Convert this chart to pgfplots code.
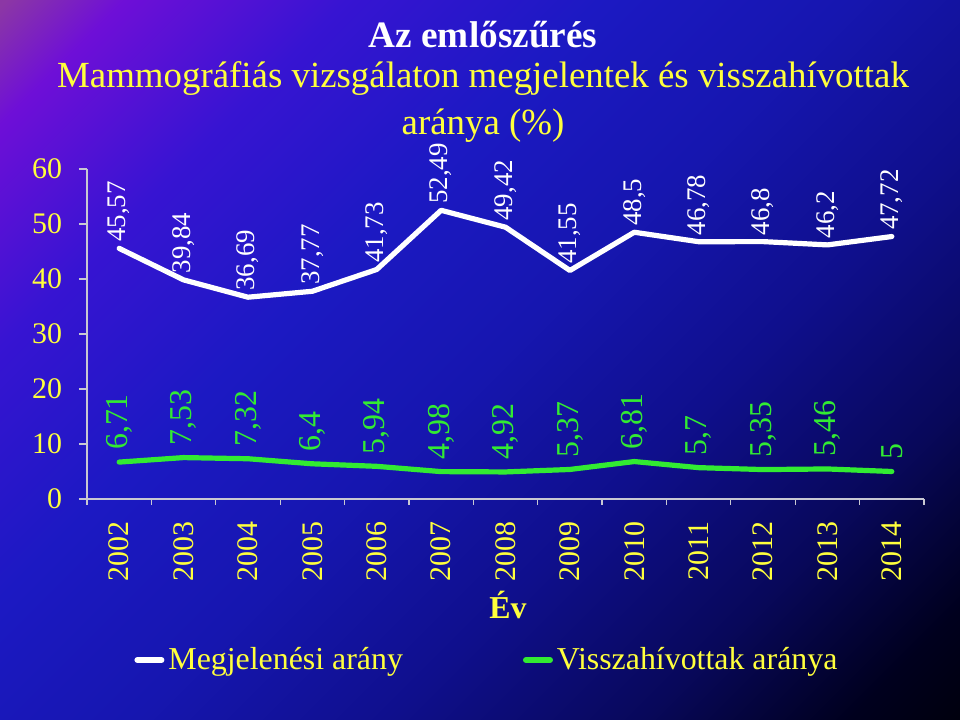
\documentclass[border=0pt]{standalone}
\usepackage{fontspec}
\setmainfont{Liberation Serif}
\usepackage{pgfplots}
\pgfplotsset{compat=1.18}
\usepackage{pgfplotstable}
\definecolor{ylw}{RGB}{255,255,60}
\definecolor{grn}{RGB}{50,235,50}
\definecolor{axgray}{RGB}{200,200,210}
\pgfdeclarehorizontalshading{bgshade}{100bp}{
  color(0bp)=(rgb,255:red,140;green,55;blue,165);
  color(14.7bp)=(rgb,255:red,140;green,55;blue,165);
  color(19.7bp)=(rgb,255:red,110;green,15;blue,215);
  color(29.1bp)=(rgb,255:red,55;green,20;blue,210);
  color(39.8bp)=(rgb,255:red,28;green,25;blue,195);
  color(50.6bp)=(rgb,255:red,22;green,22;blue,175);
  color(61.4bp)=(rgb,255:red,15;green,15;blue,140);
  color(72.1bp)=(rgb,255:red,8;green,8;blue,90);
  color(80.8bp)=(rgb,255:red,0;green,0;blue,30);
  color(86.5bp)=(rgb,255:red,0;green,0;blue,10);
  color(100bp)=(rgb,255:red,0;green,0;blue,10)}
\pgfplotstableread{
x y lab
0 45.57 {45,57}
1 39.84 {39,84}
2 36.69 {36,69}
3 37.77 {37,77}
4 41.73 {41,73}
5 52.49 {52,49}
6 49.42 {49,42}
7 41.55 {41,55}
8 48.5 {48,5}
9 46.78 {46,78}
10 46.8 {46,8}
11 46.2 {46,2}
12 47.72 {47,72}
}\megj
\pgfplotstableread{
x y lab
0 6.71 {6,71}
1 7.53 {7,53}
2 7.32 {7,32}
3 6.4 {6,4}
4 5.94 {5,94}
5 4.98 {4,98}
6 4.92 {4,92}
7 5.37 {5,37}
8 6.81 {6,81}
9 5.7 {5,7}
10 5.35 {5,35}
11 5.46 {5,46}
12 5 {5}
}\vissza
\begin{document}
\begin{tikzpicture}[x=0.5bp,y=0.5bp]
\shade[shading=bgshade, shading angle=-45] (0,0) rectangle (960,720);
\useasboundingbox (0,0) rectangle (960,720);
\coordinate (O) at (87,221);
\begin{axis}[
  at={(O)}, anchor=south west,
  scale only axis, width=418.5bp, height=165bp,
  xmin=-0.5, xmax=12.5, ymin=0, ymax=60,
  axis lines*=left,
  axis line style={draw=axgray, line width=0.6bp},
  clip=false,
  xtick={0,...,12},
  xticklabels={2002,2003,2004,2005,2006,2007,2008,2009,2010,2011,2012,2013,2014},
  xtick style={draw=none},
  minor xtick={-0.5,0.5,...,12.5},
  minor x tick style={draw=axgray, line width=0.6bp},
  minor tick length=3bp,
  ytick={0,10,...,60},
  y tick style={draw=axgray, line width=0.6bp},
  major tick length=4bp,
  tick align=outside,
  /pgf/number format/assume math mode=true,
  xticklabel style={rotate=90, anchor=east, font=\fontsize{15}{15}\selectfont, text=ylw, xshift=-4bp},
  yticklabel style={font=\fontsize{15}{15}\selectfont, text=ylw, xshift=-5bp},
  nodes near coords,
  point meta=explicit symbolic,
  nodes near coords style={rotate=90, anchor=west},
  legend style={at={(0.479,-0.488)}, anchor=center, draw=none, fill=none,
    legend columns=2, font=\fontsize{16}{16}\selectfont, text=ylw,
    /tikz/every even column/.append style={column sep=58bp}},
  legend cell align=left,
  legend image code/.code={\draw[#1, line width=3bp, line cap=round] (0bp,0bp) -- (12bp,0bp);},
]
\addplot[white, line width=2.6bp, line join=round, line cap=round,
  nodes near coords style={text=white, font=\fontsize{13.5}{13.5}\selectfont, inner sep=1.2bp, xshift=0.8bp}]
  table[x=x, y=y, meta=lab] {\megj};
\addlegendentry{Megjelenési arány}
\addplot[grn, line width=2.6bp, line join=round, line cap=round,
  nodes near coords style={text=grn, font=\fontsize{16}{16}\selectfont, inner sep=4bp, xshift=0.8bp}]
  table[x=x, y=y, meta=lab] {\vissza};
\addlegendentry{Visszahívottak aránya}
\end{axis}
\node[text=white, font=\fontsize{18.7}{18.7}\selectfont\bfseries] at (483,685) {Az emlőszűrés};
\node[text=ylw, font=\fontsize{18.5}{18.5}\selectfont] at (483,641) {Mammográfiás vizsgálaton megjelentek és visszahívottak};
\node[text=ylw, font=\fontsize{18.5}{18.5}\selectfont] at (483,594) {aránya (\%)};
\node[text=ylw, font=\fontsize{16}{16}\selectfont\bfseries] at (508,115) {Év};
\end{tikzpicture}
\end{document}
